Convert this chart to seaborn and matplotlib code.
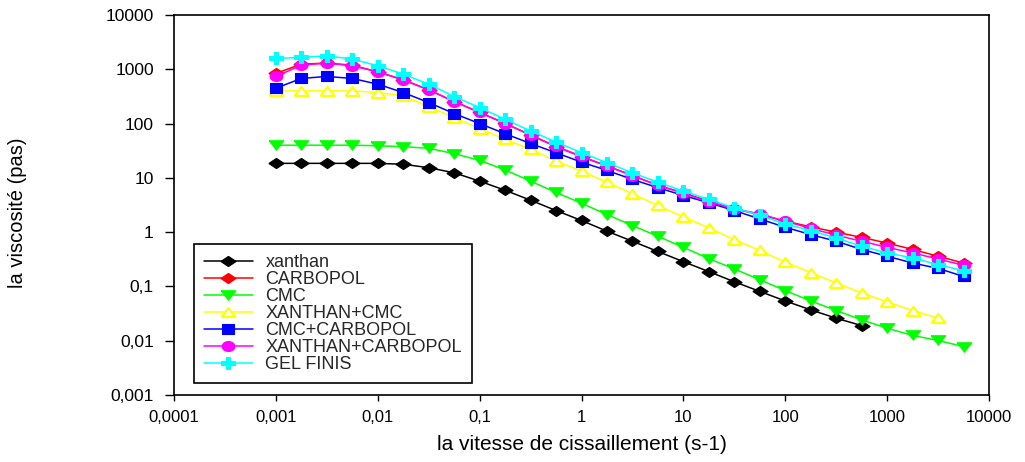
import numpy as np
import pandas as pd
import matplotlib
matplotlib.use("Agg")
import matplotlib.pyplot as plt
import seaborn as sns

# ---------------- data ----------------
shear_rate = [0.001, 0.00178, 0.00316, 0.00562, 0.01, 0.0178, 0.0316, 0.0562,
              0.1, 0.178, 0.316, 0.562, 1, 1.78, 3.16, 5.62,
              10, 17.8, 31.6, 56.2, 100, 178, 316, 562,
              1000, 1780, 3160, 5620]

xanthan = [18.5, 18.5, 18.5, 18.5, 18.5, 17.8, 15.4, 12.4, 8.7, 5.9, 3.88, 2.5,
           1.64, 1.04, 0.68, 0.44, 0.286, 0.187, 0.122, 0.081, 0.054, 0.037,
           0.026, 0.019]
carbopol = [840, 1245, 1300, 1190, 897, 638, 417, 255, 160, 101, 61, 37.6,
            24.5, 16.5, 11.1, 7.25, 5.3, 3.7, 2.69, 2.1, 1.6, 1.25, 1.0, 0.8,
            0.63, 0.48, 0.36, 0.27]
cmc = [40, 40, 40, 40, 39, 37.6, 35, 28, 21, 14, 8.7, 5.4, 3.4, 2.11, 1.32,
       0.84, 0.525, 0.325, 0.21, 0.133, 0.084, 0.054, 0.036, 0.0243, 0.017,
       0.0125, 0.0101, 0.0078]
xanthan_cmc = [400, 400, 400, 400, 373, 323, 206, 129, 81, 51, 33.5, 20.4,
               13.3, 8.3, 5.1, 3.1, 1.91, 1.2, 0.73, 0.46, 0.28, 0.18, 0.116,
               0.076, 0.052, 0.036, 0.026]
cmc_carbopol = [449, 678, 738, 678, 532, 373, 244, 153, 100, 65, 43, 29,
                19.5, 13.7, 9.35, 6.6, 4.73, 3.47, 2.5, 1.75, 1.23, 0.9, 0.68,
                0.48, 0.36, 0.27, 0.215, 0.153]
xanthan_carbopol = [738, 1192, 1300, 1160, 897, 640, 420, 255, 160, 100, 62,
                    38, 25, 16.5, 11, 7.3, 5.2, 3.6, 2.7, 2.17, 1.59, 1.17,
                    0.88, 0.68, 0.525, 0.414, 0.32, 0.245]
gel_finis = [1585, 1652, 1773, 1540, 1160, 813, 532, 315, 197, 120, 73, 45.7,
             29.1, 19, 12.4, 8.3, 5.7, 4.0, 2.8, 2.05, 1.42, 1.07, 0.78, 0.55,
             0.414, 0.335, 0.252, 0.195]

series_names = ["xanthan", "CARBOPOL", "CMC", "XANTHAN+CMC", "CMC+CARBOPOL",
                "XANTHAN+CARBOPOL", "GEL FINIS"]
series_values = [xanthan, carbopol, cmc, xanthan_cmc, cmc_carbopol,
                 xanthan_carbopol, gel_finis]

x_ticks = [0.0001, 0.001, 0.01, 0.1, 1, 10, 100, 1000, 10000]
x_tick_labels = ["0,0001", "0,001", "0,01", "0,1", "1", "10", "100", "1000", "10000"]
y_ticks = [0.001, 0.01, 0.1, 1, 10, 100, 1000, 10000]
y_tick_labels = ["0,001", "0,01", "0,1", "1", "10", "100", "1000", "10000"]

# ---------------- styles ----------------
colors = ["#000000", "#ff0000", "#00ff00", "#ffff00", "#0000ff", "#ff00ff", "#00ffff"]


def closed(verts):
    return list(verts) + [verts[0]]


t = np.linspace(0, 2 * np.pi, 24, endpoint=False)
m_diamond = closed([(-1.5, 0), (0, 1), (1.5, 0), (0, -1)])
m_tri_down = closed([(-1, 0.65), (1, 0.65), (0, -0.65)])
m_tri_up = closed([(-1, -0.65), (1, -0.65), (0, 0.65)])
m_square = closed([(-1, -0.75), (1, -0.75), (1, 0.75), (-1, 0.75)])
m_ellipse = closed(list(zip(np.cos(t), 0.78 * np.sin(t))))
a = 0.33
m_plus = closed([(-a, 0.85), (a, 0.85), (a, a), (1, a), (1, -a), (a, -a), (a, -0.85),
                 (-a, -0.85), (-a, -a), (-1, -a), (-1, a), (-a, a)])
markers = [m_diamond, m_diamond, m_tri_down, m_tri_up, m_square, m_ellipse, m_plus]
msizes = [11, 11, 10.5, 10, 9.2, 9.2, 9.5]
faces = ["#000000", "#ff0000", "#00ff00", "white", "#0000ff", "#ff00ff", "#00ffff"]

sns.set_theme(style="white")
plt.rcParams["font.family"] = ["Liberation Sans", "DejaVu Sans"]

fig = plt.figure(figsize=(10.25, 4.62), dpi=100)
ax = fig.add_axes([174 / 1025, 1 - 395 / 462, (989 - 174) / 1025, (395 - 15) / 462])

for name, vals, c, m, ms, fc in zip(series_names, series_values, colors, markers, msizes, faces):
    df = pd.DataFrame({"x": shear_rate[:len(vals)], "y": vals})
    sns.lineplot(data=df, x="x", y="y", ax=ax, color=c, marker=m, markersize=ms,
                 markerfacecolor=fc, markeredgecolor=c,
                 markeredgewidth=1.6 if fc == "white" else 0.8,
                 linewidth=1.1, label=name, sort=False, estimator=None)

ax.set_xscale("log")
ax.set_yscale("log")
ax.set_xlim(0.0001, 10000)
ax.set_ylim(0.001, 10000)
ax.set_xticks(x_ticks)
ax.set_xticklabels(x_tick_labels)
ax.set_yticks(y_ticks)
ax.set_yticklabels(y_tick_labels)
ax.minorticks_off()
ax.grid(False)

for s in ax.spines.values():
    s.set_color("black")
    s.set_linewidth(1.2)
    s.set_visible(True)

ax.tick_params(axis="y", which="major", direction="out", length=6.5, width=1,
               color="black", labelsize=12.5, pad=8, left=True, labelcolor="black")
ax.tick_params(axis="x", which="major", direction="out", length=4, width=1,
               color="black", labelsize=12, pad=7, bottom=True, labelcolor="black")

ax.set_xlabel("la vitesse de cissaillement (s-1)", fontsize=15, color="black", va="center")
ax.xaxis.set_label_coords(0.5, (395 - 444) / 380)
ax.set_ylabel("la viscosité (pas)", fontsize=14.5, color="black", va="center", ha="center")
ax.yaxis.set_label_coords((18 - 174) / 815, 0.5 - 8 / 380)

leg = ax.legend(loc="lower left", bbox_to_anchor=(20 / 815, 12 / 380), borderaxespad=0,
                fontsize=13, frameon=True, fancybox=False, shadow=False,
                handlelength=2.7, handletextpad=0.7, labelspacing=0.0,
                borderpad=0.55, numpoints=1)
leg.get_frame().set_edgecolor("black")
leg.get_frame().set_linewidth(1.2)
leg.get_frame().set_facecolor("white")
leg.get_frame().set_alpha(1)

fig.savefig("out.png", dpi=100, facecolor="white")
